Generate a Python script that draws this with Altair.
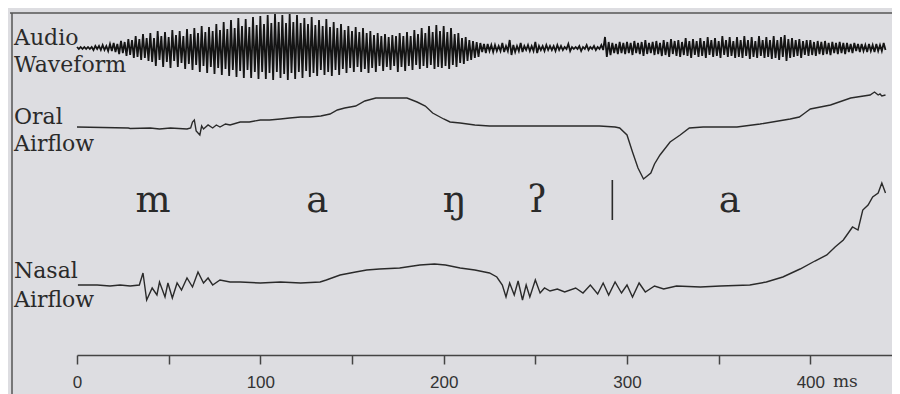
import altair as alt
import pandas as pd

# ---------------- data ----------------
# Oral airflow (time in ms, relative flow units)
oral_t = [0, 28, 29, 40, 45, 51, 60, 62, 63, 64, 65, 67, 68, 69, 71.5, 74, 76, 78, 81, 83.5,
          89, 94, 100, 105, 111, 116, 122, 127, 133, 138, 142, 146, 152, 157, 163, 168, 176, 180,
          185.5, 190, 194, 200, 203.5, 209, 217, 225, 242, 263.5, 285, 293.5, 296, 300, 303, 306,
          309, 313, 315, 318, 323.5, 329, 334, 341.5, 351, 360, 372.6, 389, 394, 397, 400, 411,
          422, 432.6, 435, 437, 438, 439, 441]
oral_v = [1, 0, -0.5, 0, -1, 0, -1, 0, 6, 8, -3, -7, 2, -1, 3, 0, 3, 1, 4, 3,
          6, 6, 8, 8, 9, 10, 11, 11, 12, 14, 18, 20, 22, 27, 30, 30, 30, 30,
          26, 22, 15, 9, 6, 5, 3, 2, 2, 2, 2, 1, 0, -7, -24, -40,
          -51, -45, -36, -27, -14, -7, 0, 1, 1, 1, 4, 9, 11, 15, 19, 23,
          30, 33, 36, 33, 34, 32, 33]

# Nasal airflow (time in ms, relative flow units)
nasal_t = [0.5, 11, 18, 23.5, 29, 34, 36, 38, 41, 43.6, 45, 48, 49.6, 52, 54.6, 57, 60, 63, 66,
           69, 71.5, 74, 78, 83.5, 89, 100, 111, 122, 132.6, 136, 143.5, 152, 158, 165, 176, 187,
           195, 201, 209, 217, 225, 229, 232, 234, 236, 238.5, 240.6, 243, 245, 247, 250, 252.6,
           255, 258, 262, 266, 272, 276, 280, 284, 287, 290, 293.5, 297, 300, 303, 306.6, 310,
           315, 320, 327, 340, 351, 367, 376, 385, 394.4, 402.5, 409, 413.5, 418, 420.7, 423,
           426, 428.6, 431.5, 434, 437, 439, 441]
nasal_v = [0, 0, -1, 0, -1, 0, 12, -15, -3, -10, 3, -12, 2, -13, 2, -5, 7, -2, 13,
           2, 7, 0, 5, 3, 3, 2, 3, 2, 3, 5, 10, 13, 15, 16, 17, 20,
           21, 20, 17, 15, 12, 8, 0, -12, 2, -10, 4, -15, 0, -12, 5, -8,
           -3, -6, -4, -7, -3, -8, 0, -9, 2, -10, 3, -8, 0, -12, 2, -7,
           -1, -4, -1, -2, -1, 0, 3, 8, 16, 24, 30, 38, 45, 52, 58,
           55, 75, 80, 88, 92, 102, 92]

# Audio waveform: positive peaks and negative troughs every 2 ms (0 .. 440 ms)
audio_hi = [1, 1, 1, 1, 1, 2, 2, 3, 2, 4,
            5, 4, 7, 6, 9, 8, 12, 9, 14, 10,
            15, 10, 17, 12, 16, 11, 18, 13, 17, 12,
            19, 14, 20, 15, 22, 16, 21, 17, 24, 18,
            26, 19, 28, 20, 30, 22, 29, 21, 31, 23,
            32, 24, 33, 25, 34, 26, 33, 25, 34, 26,
            33, 25, 30, 24, 31, 23, 28, 22, 29, 21,
            26, 20, 24, 18, 22, 17, 21, 16, 20, 15,
            17, 13, 15, 12, 14, 11, 13, 12, 15, 12,
            16, 12, 18, 14, 20, 15, 22, 16, 23, 17,
            22, 16, 20, 14, 15, 10, 11, 8, 7, 6,
            5, 4, 4, 3, 3, 2, 5, 2, 8, 3,
            2, 5, 2, 3, 2, 6, 2, 2, 3, 2,
            2, 3, 2, 1, 4, 1, 1, 2, 1, 3,
            1, 2, 1, 3, 11, 6, 5, 4, 6, 5,
            6, 5, 7, 5, 6, 8, 5, 6, 7, 5,
            8, 6, 9, 7, 8, 6, 10, 7, 9, 7,
            10, 7, 11, 8, 10, 7, 12, 8, 11, 7,
            11, 8, 12, 8, 11, 7, 12, 8, 11, 8,
            12, 8, 11, 13, 9, 10, 8, 9, 7, 8,
            8, 6, 7, 6, 7, 5, 6, 5, 6, 5,
            5, 4, 5, 4, 4, 3, 4, 3, 4, 3,
            5]
audio_lo = [1, 1, 1, 1, 2, 1, 2, 2, 3, 3,
            4, 6, 5, 8, 7, 10, 9, 12, 10, 13,
            14, 18, 12, 19, 14, 20, 13, 19, 15, 21,
            16, 22, 17, 24, 18, 25, 19, 26, 20, 27,
            21, 28, 22, 29, 23, 30, 22, 30, 24, 31,
            24, 31, 25, 32, 24, 30, 26, 32, 25, 31,
            24, 30, 23, 29, 25, 28, 22, 27, 24, 28,
            22, 27, 21, 25, 20, 24, 19, 24, 21, 25,
            20, 24, 18, 23, 19, 22, 18, 24, 19, 23,
            18, 22, 17, 21, 18, 20, 17, 21, 19, 20,
            18, 21, 17, 19, 15, 16, 13, 12, 10, 9,
            4, 5, 3, 4, 3, 3, 4, 3, 7, 4,
            3, 4, 2, 3, 3, 5, 2, 3, 2, 2,
            3, 2, 2, 1, 3, 1, 1, 3, 1, 2,
            1, 2, 1, 2, 9, 7, 5, 6, 5, 6,
            5, 7, 5, 6, 8, 6, 5, 7, 6, 8,
            7, 9, 6, 8, 9, 7, 8, 10, 7, 9,
            8, 10, 7, 9, 8, 10, 7, 9, 8, 10,
            9, 10, 8, 11, 9, 10, 8, 10, 9, 11,
            10, 12, 9, 13, 10, 9, 8, 10, 7, 8,
            7, 8, 6, 7, 6, 7, 5, 6, 5, 6,
            4, 5, 3, 4, 3, 4, 3, 4, 3, 3,
            2]
audio_step = 2

# Trace labels and phonetic segments
trace_labels = ["Audio", "Waveform", "Oral", "Airflow", "Nasal", "Airflow"]
segments = ["m", "a", "ŋ", "ʔ", "a"]
segment_t = [41.5, 131, 206, 251, 356]
boundary_t = [292]
tick_values = [0, 50, 100, 150, 200, 250, 300, 350, 400]
unit_label = "ms"

# ---------------- layout (pixels inside the plot area) ----------------
W, H = 884, 347
label_pos = [(6, 37), (6, 64), (6, 116), (6, 143), (6, 270), (6, 299)]
ink = "#2a2a2a"
bg = "#dddde1"

# ---------------- tables ----------------
audio_rows = []
for k, (hi, lo) in enumerate(zip(audio_hi, audio_lo)):
    audio_rows.append({"t": k * audio_step, "v": hi})
    audio_rows.append({"t": k * audio_step + 1, "v": -lo})
audio_df = pd.DataFrame(audio_rows)
oral_df = pd.DataFrame({"t": oral_t, "v": oral_v})
nasal_df = pd.DataFrame({"t": nasal_t, "v": nasal_v})
seg_df = pd.DataFrame({"t": segment_t, "s": segments})
bound_df = pd.DataFrame({"t": boundary_t})

x_scale = alt.Scale(domain=[0, 450], range=[69, 894], nice=False, zero=False)
x_axis = alt.Axis(
    values=tick_values, title=None, grid=False,
    labelExpr="datum.value % 100 == 0 ? datum.label : ''",
    domainColor="#444", domainWidth=1.5, tickColor="#444", tickWidth=1.5,
    tickSize=9, labelFont="Liberation Sans", labelFontSize=17, labelColor="#333",
    labelPadding=10, labelFlush=False, labelOverlap=False,
)

def trace(df, dom, rng, width, color):
    return alt.Chart(df).mark_line(color=color, strokeWidth=width, interpolate="linear").encode(
        x=alt.X("t:Q", scale=x_scale, axis=x_axis),
        y=alt.Y("v:Q", scale=alt.Scale(domain=dom, range=rng, nice=False, zero=False), axis=None),
        order="t:Q",
    )

audio = trace(audio_df, [-40, 40], [80, 0], 1.8, "#141414")
oral = trace(oral_df, [-60, 40], [180, 80], 1.4, ink)
nasal = trace(nasal_df, [-20, 110], [297, 167], 1.4, ink)

segs = alt.Chart(seg_df).mark_text(
    font="DejaVu Serif", fontSize=37, color=ink, baseline="alphabetic", align="center"
).encode(
    x=alt.X("t:Q", scale=x_scale, axis=x_axis),
    y=alt.value(204),
    text="s:N",
)

bound = alt.Chart(bound_df).mark_rule(color=ink, strokeWidth=1.6).encode(
    x=alt.X("t:Q", scale=x_scale, axis=x_axis),
    y=alt.value(172), y2=alt.value(212),
)

label_layers = []
for txt, (lx, ly) in zip(trace_labels, label_pos):
    label_layers.append(
        alt.Chart(pd.DataFrame({"s": [txt]})).mark_text(
            font="DejaVu Serif", fontSize=22, color=ink, align="left", baseline="alphabetic"
        ).encode(x=alt.value(lx), y=alt.value(ly), text="s:N")
    )

unit = alt.Chart(pd.DataFrame({"s": [unit_label]})).mark_text(
    font="DejaVu Serif", fontSize=17, color="#333", align="left", baseline="top"
).encode(x=alt.value(825), y=alt.value(H + 9 + 10), text="s:N")

frame_df = pd.DataFrame({"k": [0]})
frame_left = alt.Chart(frame_df).mark_rule(color="#555", strokeWidth=1.5).encode(
    x=alt.value(4), y=alt.value(5), y2=alt.value(400))
frame_top = alt.Chart(frame_df).mark_rule(color="#555", strokeWidth=1.5).encode(
    x=alt.value(2), x2=alt.value(900), y=alt.value(5))

chart = alt.layer(
    frame_left, frame_top, audio, oral, nasal, segs, bound, unit, *label_layers
).resolve_scale(y="independent").properties(
    width=W, height=H,
    autosize=alt.AutoSizeParams(type="none"),
    padding={"left": 0, "top": 0, "right": 0, "bottom": 39},
    background=bg,
).configure_view(stroke=None)

chart.save("out.html", embed_options={"renderer": "svg", "actions": False})
